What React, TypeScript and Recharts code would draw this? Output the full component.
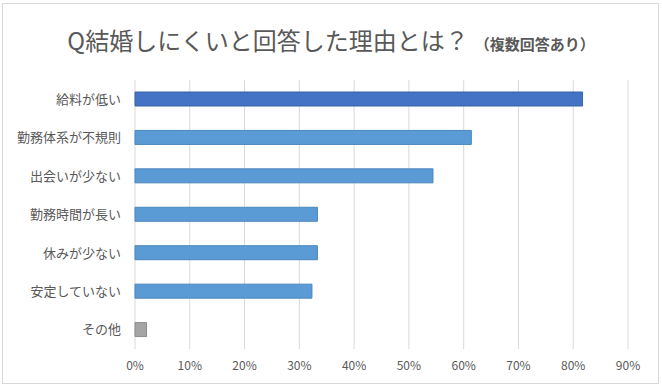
import { Bar, BarChart, CartesianGrid, Cell, XAxis, YAxis } from "recharts"

const reasons = [
  "給料が低い",
  "勤務体系が不規則",
  "出会いが少ない",
  "勤務時間が長い",
  "休みが少ない",
  "安定していない",
  "その他",
]
const shares = [81.7, 61.4, 54.4, 33.3, 33.3, 32.3, 2.1]
const xTicks = [0, 10, 20, 30, 40, 50, 60, 70, 80, 90]

const fills = ["#4472C4", "#5B9BD5", "#5B9BD5", "#5B9BD5", "#5B9BD5", "#5B9BD5", "#A5A5A5"]
const strokes = ["#3A62AA", "#4A86BD", "#4A86BD", "#4A86BD", "#4A86BD", "#4A86BD", "#8C8C8C"]

const data = reasons.map((reason, i) => ({ reason, share: shares[i] }))

const font = "'Noto Sans CJK JP', 'Noto Sans', sans-serif"

export default function App() {
  return (
    <div style={{ position: "absolute", left: 0, top: 0, width: 662, height: 387, background: "#fff" }}>
      <div
        style={{
          position: "absolute",
          left: 2,
          top: 3,
          width: 655,
          height: 379,
          border: "1px solid #d9d9d9",
        }}
      />
      <div
        style={{
          position: "absolute",
          left: 0,
          top: 22,
          width: 662,
          textAlign: "center",
          color: "#595959",
          fontFamily: font,
          whiteSpace: "nowrap",
          lineHeight: "36px",
        }}
      >
        <span style={{ fontSize: 24 }}>Q結婚しにくいと回答した理由とは？</span>
        <span style={{ fontSize: 15, fontWeight: 700, marginLeft: 6 }}>（複数回答あり）</span>
      </div>
      <BarChart
        width={662}
        height={387}
        data={data}
        layout="vertical"
        margin={{ top: 80, right: 34, bottom: 8, left: 0 }}
        barSize={14}
        style={{ position: "absolute", left: 0, top: 0 }}
      >
        <CartesianGrid horizontal={false} stroke="#d9d9d9" />
        <XAxis
          type="number"
          domain={[0, 90]}
          ticks={xTicks}
          tickFormatter={(v) => `${v}%`}
          axisLine={false}
          tickLine={false}
          tickMargin={6}
          height={30}
          interval={0}
          tick={{ fill: "#595959", fontSize: 12, fontFamily: font }}
        />
        <YAxis
          type="category"
          dataKey="reason"
          width={135}
          axisLine={false}
          tickLine={false}
          tickMargin={8}
          interval={0}
          tick={{ fill: "#595959", fontSize: 13, fontFamily: font }}
        />
        <Bar dataKey="share" isAnimationActive={false} strokeWidth={1}>
          {data.map((d, i) => (
            <Cell key={d.reason} fill={fills[i]} stroke={strokes[i]} />
          ))}
        </Bar>
      </BarChart>
    </div>
  )
}
